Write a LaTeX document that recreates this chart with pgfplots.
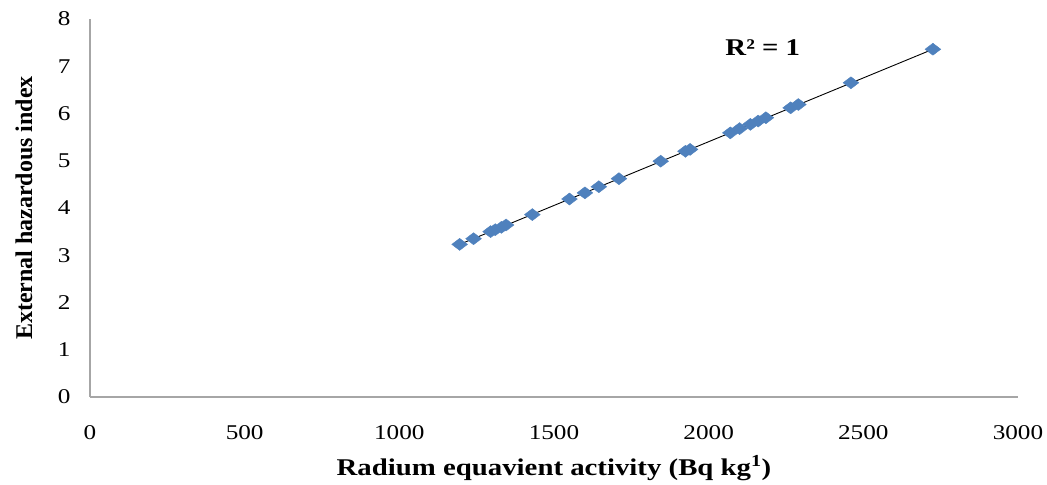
\documentclass[border=0pt]{standalone}
\usepackage{fontspec}
\setmainfont{Liberation Serif}
\newfontfamily\widefont[FakeStretch=1.2]{Liberation Serif}
\usepackage{pgfplots}
\pgfplotsset{compat=1.18}
\definecolor{excelblue}{RGB}{79,129,189}

\begin{document}
\begin{tikzpicture}
\begin{axis}[
    width=928pt, height=378pt, scale only axis,
    xmin=0, xmax=3000, ymin=0, ymax=8,
    xtick={0,500,...,3000}, ytick={0,1,...,8},
    axis x line=bottom, axis y line=left,
    axis line style={gray!70, line width=1.3pt, -},
    major tick length=0pt,
    /pgf/number format/assume math mode=true,
    /pgf/number format/1000 sep={},
    ticklabel style={font=\widefont\fontsize{21}{24}\selectfont},
    xticklabel style={yshift=-25pt},
    yticklabel style={xshift=-16pt},
    xlabel={\textbf{Radium equavient activity (Bq kg\textsuperscript{1})}},
    ylabel={\textbf{External hazardous index}},
    xlabel style={font=\widefont\fontsize{24}{28}\selectfont,
        at={(axis description cs:0.5,0)}, anchor=center, yshift=-71pt},
    ylabel style={font=\fontsize{24}{28}\selectfont,
        at={(axis description cs:-0.0711,0.5)}, anchor=center},
]
\addplot[only marks, mark=diamond*, mark size=6pt,
    mark options={xscale=1.75, fill=excelblue, draw=excelblue}] coordinates {
    (1195,3.23) (1240,3.35) (1295,3.50) (1310,3.54) (1330,3.59) (1345,3.64)
    (1430,3.86) (1550,4.19) (1600,4.32) (1645,4.45) (1710,4.62) (1845,4.99)
    (1925,5.20) (1940,5.24) (2070,5.59) (2100,5.68) (2135,5.77) (2160,5.84)
    (2185,5.91) (2265,6.12) (2290,6.19) (2460,6.65) (2725,7.36)
};
\addplot[black, line width=0.9pt, no marks] coordinates {(1195,3.23) (2725,7.36)};
\node[font=\widefont\fontsize{24}{28}\selectfont\bfseries] at (axis cs:2175,7.4) {R² = 1};
\coordinate (bl) at (rel axis cs:-0.0970,-0.2302);
\coordinate (tr) at (rel axis cs:1.0313,1.0503);
\end{axis}
\path (bl) rectangle (tr);
\end{tikzpicture}
\end{document}
